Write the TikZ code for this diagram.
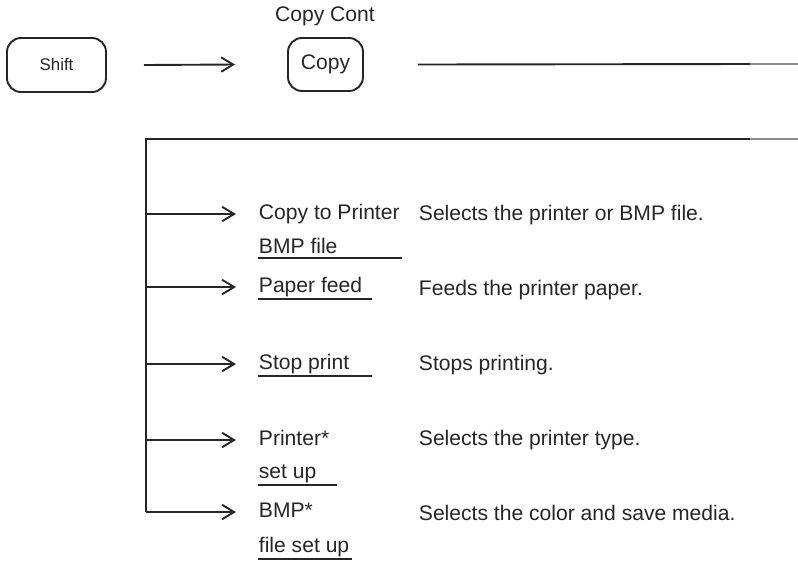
\documentclass[tikz,border=0pt]{standalone}
\usepackage{fontspec}
\setmainfont{Liberation Sans}
\usetikzlibrary{arrows.meta, positioning}

\begin{document}
\begin{tikzpicture}[
    x=0.025cm, y=-0.025cm,
    >={Straight Barb[length=3mm, width=3.6mm]},
    line width=1.35pt,
    color=black!85,
    font=\fontsize{15}{18}\selectfont,
    % Define styles for the key boxes and menu texts
    keybox/.style={rectangle, rounded corners=3.5mm, draw, line width=1.35pt, align=center, text height=0.72em, text depth=0pt},
    menuitem/.style={anchor=west, inner sep=0pt, text height=0.72em, text depth=0pt},
    desctext/.style={anchor=west, inner sep=0pt, text height=0.72em, text depth=0pt},
    uline/.style={line width=1.35pt},
]
\useasboundingbox (0,0) rectangle (798,562);

% -------------------------
% Key sequence
% -------------------------
\node (shift) [keybox, minimum width=2.475cm, minimum height=1.35cm, font=\fontsize{12}{14}\selectfont] at (56.5,65) {Shift};
\node (copy) [keybox, minimum width=1.875cm, minimum height=1.325cm] at (325.5,64.5) {Copy};
\node (copycont) [inner sep=0pt] at (325,16) {Copy Cont};

\coordinate (copyend) at (750,64);
\coordinate (pageedge) at (798,64);

% -------------------------
% Menu items
% -------------------------
\node (cpprn) [menuitem] at (258,214) {Copy to Printer};
\node (bmpfile) [menuitem] at (258,248) {BMP file};
\node (feed) [menuitem] at (258,287) {Paper feed};
\node (stop) [menuitem] at (258,364) {Stop print};
\node (prnset) [menuitem] at (258,440) {Printer*};
\node (setup) [menuitem] at (258,473) {set up};
\node (bmpset) [menuitem] at (258,512) {BMP*};
\node (filesetup) [menuitem] at (258,547) {file set up};

% Descriptions
\node (d1) [desctext] at (418,215) {Selects the printer or BMP file.};
\node (d2) [desctext] at (418,290) {Feeds the printer paper.};
\node (d3) [desctext] at (418,365) {Stops printing.};
\node (d4) [desctext] at (418,440) {Selects the printer type.};
\node (d5) [desctext] at (418,515) {Selects the color and save media.};

% Bus line
\coordinate (bustop) at (146,139);
\coordinate (busright) at (750,139);
\coordinate (busedge) at (798,139);

% -------------------------
% Connections
% -------------------------
\draw[->] ([xshift=0.925cm]shift.east) -- ([xshift=-1.3cm]copy.west);
\draw ([xshift=1.35cm]copy.east) -- (copyend);
\draw[black!45] (copyend) -- (pageedge);

\draw (busright) -- (bustop) -- (bustop |- bmpset.west);
\draw[black!45] (busright) -- (busedge);

\foreach \item in {cpprn, feed, stop, prnset, bmpset}
    \draw[->] (bustop |- \item.west) -- ([xshift=-0.55cm]\item.west);

% Underlines
\draw[uline] ([yshift=-0.09cm]bmpfile.south west) -- ++(144,0);
\draw[uline] ([yshift=-0.14cm]feed.south west) -- ++(114,0);
\draw[uline] ([yshift=-0.14cm]stop.south west) -- ++(114,0);
\draw[uline] ([yshift=-0.14cm]setup.south west) -- ++(79,0);
\draw[uline] ([yshift=-0.14cm]filesetup.south west) -- ++(94,0);

\end{tikzpicture}
\end{document}
